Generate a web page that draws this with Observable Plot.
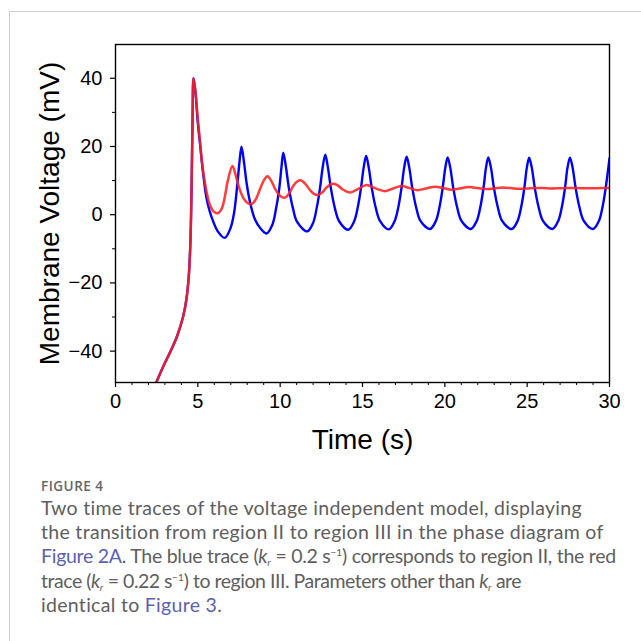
<!DOCTYPE html>
<html>
<head>
<meta charset="utf-8">
<script src="https://cdn.jsdelivr.net/npm/d3@7"></script>
<script src="https://cdn.jsdelivr.net/npm/@observablehq/plot@0.6"></script>
<style>
  html, body { margin: 0; padding: 0; background: #fff; width: 641px; height: 641px; overflow: hidden; }
  #box { position: absolute; left: 9px; top: 11px; width: 640px; height: 640px;
         border-top: 1px solid #cfcfcf; border-left: 1px solid #cfcfcf; }
  #chart { position: absolute; left: 0; top: 0; }
  #caption { position: absolute; left: 41px; top: 477px; width: 600px; white-space: nowrap;
             font-family: Lato, "Open Sans", sans-serif; color: #5e5e5e; font-size: 19.5px; letter-spacing: 0.3px; line-height: 24.2px; }
  #caption .fig { font-family: "Open Sans", Lato, sans-serif; font-size: 13.5px; font-weight: 600; color: #666; letter-spacing: 0.5px; line-height: 18px; margin-bottom: 1px; }
  #caption .l3 { letter-spacing: -0.27px; }
  #caption .l4 { letter-spacing: -0.47px; }
  #caption a { color: #5b5fb6; text-decoration: none; }
  #caption sub, #caption sup { font-size: 10px; line-height: 0; letter-spacing: 0; }
  #caption sub { vertical-align: -3px; }
</style>
</head>
<body>
<div id="box"></div>
<div id="chart"></div>
<div id="caption">
  <div class="fig">FIGURE 4</div>
  <span>Two time traces of the voltage independent model, displaying</span><br>
  <span>the transition from region II to region III in the phase diagram of</span><br>
  <span class="l3"><a>Figure 2A</a>. The blue trace (<i>k</i><sub><i>r</i></sub> = 0.2&#8239;s<sup>−1</sup>) corresponds to region II, the red</span><br>
  <span class="l4">trace (<i>k</i><sub><i>r</i></sub> = 0.22&#8239;s<sup>−1</sup>) to region III. Parameters other than <i>k</i><sub><i>r</i></sub> are</span><br>
  <span>identical to <a>Figure 3</a>.</span>
</div>
<script>
// Tick values
const xMajorTicks = [0, 5, 10, 15, 20, 25, 30];
const xMinorTicks = [1,2,3,4,6,7,8,9,11,12,13,14,16,17,18,19,21,22,23,24,26,27,28,29];
const yMajorTicks = [-40, -20, 0, 20, 40];
const yMinorTicks = [-30, -10, 10, 30];

// Blue trace (k_r = 0.2 s^-1): time (s)
const blueT = [2.45,2.9,3.35,3.75,4.1,4.3,4.45,4.55,4.62,4.68,4.74,
  4.85,5.0,5.15,5.3,5.52,5.72,5.92,6.2,6.63,
  6.98,7.2,7.38,7.52,7.65,7.8,7.97,8.2,8.48,8.8,9.17,
  9.52,9.74,9.94,10.08,10.19,10.35,10.53,10.77,11.04,11.65,
  12.0,12.22,12.42,12.58,12.74,12.9,13.08,13.32,13.59,14.14,
  14.49,14.71,14.91,15.07,15.22,15.38,15.56,15.8,16.07,16.6,
  16.95,17.17,17.37,17.53,17.68,17.84,18.02,18.26,18.53,19.1,
  19.45,19.67,19.87,20.03,20.17,20.33,20.51,20.75,21.02,21.58,
  21.93,22.15,22.35,22.5,22.64,22.8,22.98,23.22,23.49,24.06,
  24.41,24.63,24.83,24.98,25.12,25.28,25.46,25.7,25.97,26.53,
  26.88,27.1,27.3,27.45,27.6,27.76,27.94,28.18,28.45,29.0,
  29.35,29.57,29.77,29.93,30.0];
// Blue trace: membrane voltage (mV)
const blueV = [-49.5,-44.5,-40,-35.5,-30,-25,-18,-8,8,28,40,
  36,27,20,13,5,1,-1.8,-4.8,-6.8,
  -4,0.5,8,15,19.9,15.5,9,3,-1.5,-4,-5.5,
  -3,1.5,7.5,14,18.2,14,7.8,2,-2.2,-4.9,
  -2.4,2,7.8,13.8,17.6,13.8,7.8,2,-2,-4.4,
  -2,2.1,7.9,13.8,17.2,13.8,7.9,2.1,-1.9,-4.3,
  -1.9,2.1,7.9,13.8,17.0,13.8,7.9,2.1,-1.9,-4.2,
  -1.9,2.1,7.9,13.8,16.8,13.8,7.9,2.1,-1.9,-4.2,
  -1.9,2.1,7.9,13.8,16.8,13.8,7.9,2.1,-1.9,-4.2,
  -1.9,2.1,7.9,13.8,16.7,13.8,7.9,2.1,-1.9,-4.2,
  -1.9,2.1,7.9,13.8,16.7,13.8,7.9,2.1,-1.9,-4.2,
  -1.9,2.1,7.9,13.8,16.5];

// Red trace (k_r = 0.22 s^-1): time (s)
const redT = [2.45,2.9,3.35,3.75,4.1,4.3,4.45,4.55,4.62,4.68,4.74,
  4.85,5.0,5.11,5.25,5.41,5.57,5.72,5.95,6.2,6.45,6.63,6.82,7.1,
  7.3,7.5,7.75,8.0,8.26,8.5,8.76,9.0,9.23,9.45,9.7,10.0,10.28,
  10.55,10.8,11.05,11.25,11.5,11.8,12.05,12.31,12.55,12.8,13.05,13.26,
  13.5,13.8,14.25,14.75,15.25,15.8,16.35,16.85,17.38,17.85,18.35,18.85,
  19.4,19.9,20.4,20.9,21.45,22.0,22.5,23.0,23.5,24.0,24.5,25.0,25.5,
  26.0,26.5,27.0,27.5,28.0,28.5,29.0,29.5,30.0];
// Red trace: membrane voltage (mV)
const redV = [-49.5,-44.5,-40,-35.5,-30,-25,-18,-8,8,28,40,
  36.5,28,22.6,15.5,9.9,5.8,3.0,1.0,0.4,1.8,5,10,14.3,
  11.5,8,5,3.5,3.1,4.3,7.3,10,11.3,10,7.5,5.5,5.0,
  6.3,8.5,9.8,10.1,9.2,7.3,6.1,5.8,6.5,7.9,8.9,9.1,
  8.6,7.4,6.5,7.6,8.7,7.7,6.9,7.7,8.4,7.8,7.2,7.7,
  8.2,7.8,7.3,7.7,8.1,7.8,7.5,7.7,7.95,7.8,7.6,7.7,7.85,
  7.8,7.7,7.75,7.8,7.8,7.75,7.75,7.8,7.8];

const blue = blueT.map((t, i) => ({t, v: blueV[i]}));
const red = redT.map((t, i) => ({t, v: redV[i]}));

const font = "'Liberation Sans', Arial, Helvetica, sans-serif";

const chart = Plot.plot({
  width: 641,
  height: 470,
  marginLeft: 115,
  marginRight: 32,
  marginTop: 44,
  marginBottom: 88,
  x: {domain: [0, 30]},
  y: {domain: [-49.2, 49.9]},
  style: {fontFamily: font, background: "transparent", color: "black", overflow: "visible"},
  marks: [
    Plot.line(blue, {x: "t", y: "v", stroke: "#0000ff", strokeWidth: 2.4, curve: "catmull-rom", clip: true}),
    Plot.line(red, {x: "t", y: "v", stroke: "#ff2020", strokeOpacity: 0.88, strokeWidth: 2.5, curve: "catmull-rom", clip: true}),
    Plot.frame({stroke: "black", strokeWidth: 1.4}),
    Plot.axisX({ticks: xMajorTicks, tickSize: 5, tickPadding: 6, fontSize: 20, label: null, tickFormat: d => String(d), strokeWidth: 1.2}),
    Plot.axisX({ticks: xMinorTicks, tickSize: 3, text: null, label: null, strokeWidth: 1}),
    Plot.axisY({ticks: yMajorTicks, tickSize: 5, tickPadding: 8, fontSize: 20, label: null, strokeWidth: 1.2}),
    Plot.axisY({ticks: yMinorTicks, tickSize: 3, text: null, label: null, strokeWidth: 1}),
    Plot.text(["Membrane Voltage (mV)"], {text: d => d, frameAnchor: "left", textAnchor: "middle", lineAnchor: "middle", dx: -65, rotate: -90, fontSize: 28}),
    Plot.text(["Time (s)"], {text: d => d, frameAnchor: "bottom", textAnchor: "middle", lineAnchor: "middle", dy: 58, fontSize: 28})
  ]
});
document.getElementById("chart").appendChild(chart);
</script>
</body>
</html>
